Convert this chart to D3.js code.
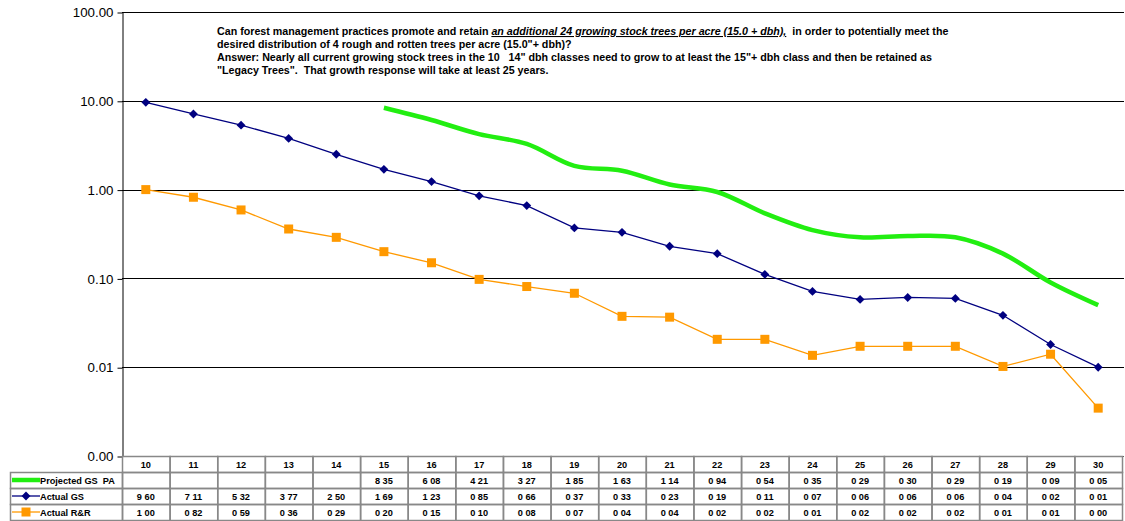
<!DOCTYPE html>
<html>
<head>
<meta charset="utf-8">
<script src="https://cdn.jsdelivr.net/npm/d3@7"></script>
<style>
  html, body { margin: 0; padding: 0; background: #fff; }
  svg { display: block; font-family: "Liberation Sans", Arial, sans-serif; }
  svg text { white-space: pre; }
</style>
</head>
<body>
<svg id="chart" width="1125" height="521"></svg>
<script>
// Diameter classes (inches dbh)
const categories = [10, 11, 12, 13, 14, 15, 16, 17, 18, 19, 20, 21, 22, 23, 24, 25, 26, 27, 28, 29, 30];

// Trees per acre by diameter class
const projectedGS = [null, null, null, null, null, 8.35, 6.08, 4.21, 3.27, 1.85, 1.63, 1.14, 0.94, 0.54, 0.35, 0.29, 0.30, 0.29, 0.19, 0.09, 0.05];
const actualGS = [9.60, 7.11, 5.32, 3.77, 2.50, 1.69, 1.23, 0.85, 0.66, 0.37, 0.33, 0.23, 0.19, 0.111, 0.0714, 0.058, 0.061, 0.0595, 0.0384, 0.018, 0.0100];
const actualRR = [1.00, 0.82, 0.59, 0.36, 0.29, 0.20, 0.15, 0.0975, 0.081, 0.068, 0.0374, 0.0366, 0.0206, 0.0206, 0.0136, 0.0172, 0.0172, 0.0172, 0.0102, 0.0140, 0.00346];

const seriesNames = ["Projected GS  PA", "Actual GS", "Actual R&R"];
const yTicks = [0.001, 0.01, 0.1, 1, 10, 100];

const titleLines = [
  [{t: "Can forest management practices promote and retain "}, {t: "an additional 24 growing stock trees per acre (15.0 + dbh),", u: true}, {t: "  in order to potentially meet the"}],
  [{t: "desired distribution of 4 rough and rotten trees per acre (15.0\"+ dbh)?"}],
  [{t: "Answer: Nearly all current growing stock trees in the 10   14\" dbh classes need to grow to at least the 15\"+ dbh class and then be retained as"}],
  [{t: "\"Legacy Trees\".  That growth response will take at least 25 years."}]
];

const svg = d3.select("#chart");
const margin = {left: 122, right: 1122, top: 12, bottom: 456};

const x = d3.scaleBand().domain(categories).range([margin.left, margin.right]);
const y = d3.scaleLog().domain([0.001, 100]).range([margin.bottom, margin.top]);

const cx = d => x(d) + x.bandwidth() / 2;

// Horizontal gridlines at each decade
svg.append("g").selectAll("line").data(yTicks.slice(1)).join("line")
  .attr("x1", margin.left).attr("x2", margin.right + 2)
  .attr("y1", d => Math.round(y(d)) + 0.5).attr("y2", d => Math.round(y(d)) + 0.5)
  .attr("stroke", "#000").attr("stroke-width", 1);

// Y axis
const yAxis = d3.axisLeft(y).tickValues(yTicks).tickFormat(d3.format(".2f")).tickSize(5).tickSizeOuter(0);
const ya = svg.append("g").attr("transform", `translate(${margin.left + 0.5},0.5)`).call(yAxis);
ya.select(".domain").attr("stroke", "#000");
ya.selectAll(".tick line").attr("stroke", "#000");
ya.selectAll("text").attr("font-size", 13.3).attr("fill", "#000").attr("x", -9)
  .attr("font-family", "'Liberation Sans', Arial, sans-serif");

// Bottom axis line
svg.append("line").attr("x1", margin.left).attr("x2", margin.right + 2)
  .attr("y1", margin.bottom + 0.5).attr("y2", margin.bottom + 0.5)
  .attr("stroke", "#555").attr("stroke-width", 1);

// Title text
const title = svg.append("text").attr("font-size", 10.7).attr("font-weight", "bold").attr("fill", "#000");
titleLines.forEach((line, i) => {
  line.forEach((seg, j) => {
    const ts = title.append("tspan").text(seg.t);
    if (j === 0) ts.attr("x", 217).attr("y", 35 + i * 13.1);
    if (seg.u) ts.attr("font-style", "italic").attr("text-decoration", "underline");
  });
});

// Projected GS: smoothed thick line
const lineSmooth = d3.line()
  .defined(d => d.v != null)
  .x(d => cx(d.c)).y(d => y(d.v))
  .curve(d3.curveCatmullRom.alpha(0.5));
const projData = categories.map((c, i) => ({c, v: projectedGS[i]})).filter(d => d.v != null);
svg.append("path").datum(projData).attr("d", lineSmooth)
  .attr("fill", "none").attr("stroke", "#22ee11").attr("stroke-width", 4.5)
  .attr("stroke-linecap", "butt").attr("stroke-linejoin", "round");

const lineStraight = d3.line().x(d => cx(d.c)).y(d => y(d.v));

// Actual R&R: orange with squares
const rrData = categories.map((c, i) => ({c, v: actualRR[i]}));
svg.append("path").datum(rrData).attr("d", lineStraight)
  .attr("fill", "none").attr("stroke", "#ff9900").attr("stroke-width", 1.3);
svg.append("g").selectAll("rect").data(rrData).join("rect")
  .attr("x", d => cx(d.c) - 4.5).attr("y", d => y(d.v) - 4.5)
  .attr("width", 9).attr("height", 9).attr("fill", "#ff9900");

// Actual GS: navy with diamonds
const gsData = categories.map((c, i) => ({c, v: actualGS[i]}));
svg.append("path").datum(gsData).attr("d", lineStraight)
  .attr("fill", "none").attr("stroke", "#000080").attr("stroke-width", 1.3);
const diamond = d3.symbol().type(d3.symbolDiamond2).size(50);
svg.append("g").selectAll("path").data(gsData).join("path")
  .attr("transform", d => `translate(${cx(d.c)},${y(d.v)})`)
  .attr("d", diamond).attr("fill", "#000080");

// Data table
const fmt = v => v == null ? "" : d3.format(".2f")(v).replace(".", " ");
const rowH = 16;
const tableTop = margin.bottom;
const labelLeft = 10;
const tbl = svg.append("g").attr("font-size", 9.2).attr("font-weight", "bold").attr("fill", "#000");

const borderColor = "#888";
function cell(x0, y0, w, h) {
  tbl.append("rect").attr("x", x0 + 0.5).attr("y", y0 + 0.5).attr("width", w).attr("height", h)
    .attr("fill", "none").attr("stroke", borderColor).attr("stroke-width", 1.5);
}

// Header row with categories
categories.forEach(c => {
  cell(x(c), tableTop, x.bandwidth(), rowH);
  tbl.append("text").attr("x", cx(c)).attr("y", tableTop + 11.5)
    .attr("text-anchor", "middle").text(c);
});

const rows = [projectedGS, actualGS, actualRR];
rows.forEach((vals, r) => {
  const y0 = tableTop + rowH * (r + 1);
  cell(labelLeft, y0, margin.left - labelLeft, rowH);
  categories.forEach((c, i) => {
    cell(x(c), y0, x.bandwidth(), rowH);
    tbl.append("text").attr("x", cx(c)).attr("y", y0 + 11.5)
      .attr("text-anchor", "middle").text(fmt(vals[i]));
  });
  tbl.append("text").attr("x", 40).attr("y", y0 + 11.5).text(seriesNames[r]);
});

// Legend keys inside label cells
const ly = r => tableTop + rowH * (r + 1) + 8;
tbl.append("line").attr("x1", 12).attr("x2", 40).attr("y1", ly(0)).attr("y2", ly(0))
  .attr("stroke", "#22ee11").attr("stroke-width", 4.5);
tbl.append("line").attr("x1", 12).attr("x2", 40).attr("y1", ly(1)).attr("y2", ly(1))
  .attr("stroke", "#000080").attr("stroke-width", 1.3);
tbl.append("path").attr("transform", `translate(26,${ly(1)})`).attr("d", diamond).attr("fill", "#000080");
tbl.append("line").attr("x1", 12).attr("x2", 40).attr("y1", ly(2)).attr("y2", ly(2))
  .attr("stroke", "#ff9900").attr("stroke-width", 1.3);
tbl.append("rect").attr("x", 21.5).attr("y", ly(2) - 4.5).attr("width", 9).attr("height", 9).attr("fill", "#ff9900");
</script>
</body>
</html>
